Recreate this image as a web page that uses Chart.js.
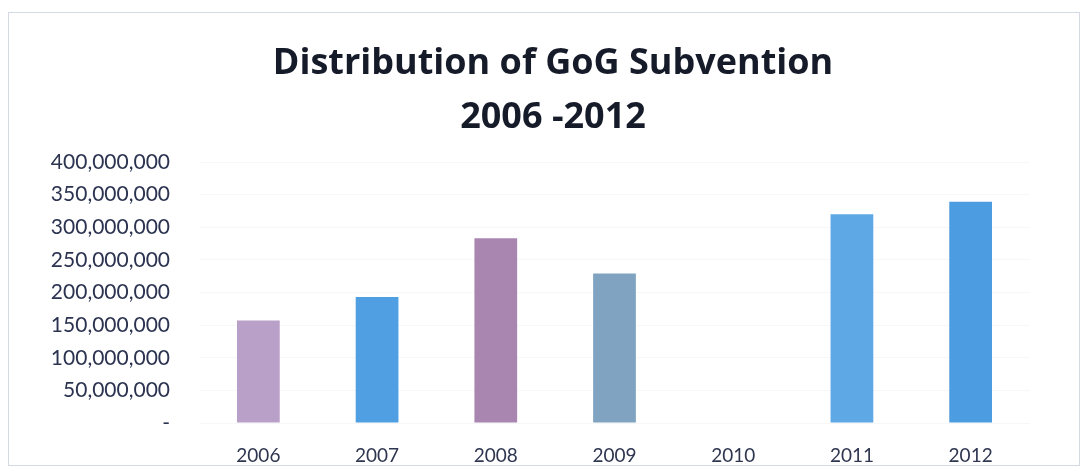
<!DOCTYPE html>
<html>
<head>
<meta charset="utf-8">
<script src="https://cdn.jsdelivr.net/npm/chart.js@4.4.0/dist/chart.umd.min.js"></script>
<style>
  html, body { margin: 0; padding: 0; background: #fff; }
  #wrap { position: relative; width: 1086px; height: 470px; }
  #frame { position: absolute; left: 8px; top: 12px; width: 1072px; height: 454px;
           border: 1px solid #d3dae4; box-sizing: border-box; pointer-events: none; }
</style>
</head>
<body>
<div id="wrap">
  <canvas id="chart-subvention" width="1086" height="470"></canvas>
  <div id="frame"></div>
</div>
<script>
const years = ['2006', '2007', '2008', '2009', '2010', '2011', '2012'];
const subvention = [157000000, 193000000, 283000000, 229000000, 0, 320000000, 339000000];
const barColors = ['#b9a0c8', '#4f9fe2', '#a886b0', '#7fa3c0', '#4f9fe2', '#5ea8e6', '#4c9ce2'];
const titleLines = ['Distribution of GoG Subvention', '2006 -2012'];

const canvas = document.getElementById('chart-subvention');

const chart = new Chart(canvas, {
  type: 'bar',
  data: {
    labels: years,
    datasets: [{
      label: 'GoG Subvention',
      data: subvention,
      backgroundColor: barColors,
      borderWidth: 0,
      barPercentage: 0.36,
      categoryPercentage: 1
    }]
  },
  options: {
    responsive: false,
    animation: false,
    layout: { padding: { left: 20, right: 0, top: 0, bottom: 0 } },
    plugins: {
      legend: { display: false },
      tooltip: { enabled: false },
      title: {
        display: true,
        text: titleLines,
        color: '#161b2a',
        font: { family: 'Open Sans', size: 36, weight: 'bold', lineHeight: 1.5 },
        padding: { top: 37, bottom: 17 }
      }
    },
    scales: {
      x: {
        grid: { display: false, drawTicks: false },
        border: { display: false },
        afterFit: (scale) => { scale.height = 47; },
        ticks: {
          color: '#2f3650',
          padding: 21,
          font: { family: 'Lato', size: 19, lineHeight: 1.2 }
        }
      },
      y: {
        min: 0,
        max: 400000000,
        grid: { color: 'rgba(0,0,0,0.03)', drawTicks: false },
        border: { display: false },
        afterFit: (scale) => { scale.width = 179; },
        ticks: {
          stepSize: 50000000,
          color: '#2b3350',
          padding: 29,
          font: { family: 'Lato', size: 21 },
          callback: (v) => v === 0 ? '-' : v.toLocaleString('en-US')
        }
      },
      y2: {
        position: 'right',
        display: true,
        grid: { display: false },
        border: { display: false },
        ticks: { display: false },
        afterFit: (scale) => { scale.width = 56; }
      }
    }
  }
});
</script>
</body>
</html>
